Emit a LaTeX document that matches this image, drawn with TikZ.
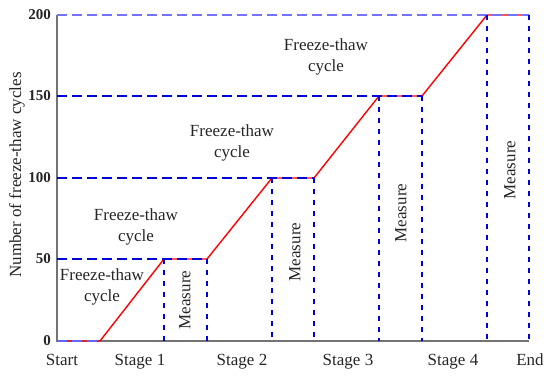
\documentclass[tikz,border=0pt]{standalone}
\usepackage{fontspec}
\setmainfont{Liberation Serif}
\begin{document}
\begin{tikzpicture}[x=1pt,y=-1pt,
  axisline/.style={draw=black!55,line width=1.2pt},
  redline/.style={draw=red,line width=1.4pt,line join=round},
  hdash/.style={draw=blue!85!black,line width=2pt,dash pattern=on 10pt off 5pt},
  vdash/.style={draw=blue!85!black,line width=2pt,dash pattern=on 5pt off 6pt},
  ticklbl/.style={font=\fontsize{15}{18}\selectfont\bfseries,text=black!85,anchor=east,inner sep=0pt},
  lbl/.style={font=\fontsize{17}{21}\selectfont,text=black!85,align=center,inner sep=0pt},
  vlbl/.style={lbl,rotate=90}]
\useasboundingbox (0,0) rectangle (550,378);
% key coordinates
\coordinate (O) at (57,341);
\coordinate (T) at (57,15);
\coordinate (E) at (529,341);
\coordinate (L50) at (57,259);
\coordinate (L100) at (57,178);
\coordinate (L150) at (57,96);
\coordinate (L200) at (57,15);
\coordinate (r0) at (100,341);
\coordinate (a1) at (164,259);
\coordinate (b1) at (207,259);
\coordinate (a2) at (272,178);
\coordinate (b2) at (314,178);
\coordinate (a3) at (379,96);
\coordinate (b3) at (422,96);
\coordinate (a4) at (487,15);
\coordinate (b4) at (529,15);
\coordinate (a1b) at (164,341);
\coordinate (b1b) at (207,341);
\coordinate (a2b) at (272,341);
\coordinate (b2b) at (314,341);
\coordinate (a3b) at (379,341);
\coordinate (b3b) at (422,341);
\coordinate (a4b) at (487,341);
\coordinate (b4b) at (529,341);
% axes
\draw[axisline] (T) -- (O) -- (E);
% red staircase
\draw[redline] (O) -- (r0) -- (a1) -- (b1) -- (a2) -- (b2) -- (a3) -- (b3) -- (a4) -- (b4);
% horizontal dashed
\draw[hdash,draw=blue!60] (O) -- (r0);
\draw[hdash] (L50) -- (b1);
\draw[hdash] (L100) -- (b2);
\draw[hdash] (L150) -- (b3);
\draw[hdash,draw=blue!55] (L200) -- (b4);
% vertical dashed
\draw[vdash] (a1) -- (a1b);
\draw[vdash] (b1) -- (b1b);
\draw[vdash] (a2) -- (a2b);
\draw[vdash] (b2) -- (b2b);
\draw[vdash] (a3) -- (a3b);
\draw[vdash] (b3) -- (b3b);
\draw[vdash] (a4) -- (a4b);
\draw[vdash] (b4) -- (b4b);
% tick labels
\node[ticklbl] (t0) at (51,341) {0};
\node[ticklbl] (t50) at (51,259) {50};
\node[ticklbl] (t100) at (51,178) {100};
\node[ticklbl] (t150) at (51,96) {150};
\node[ticklbl] (t200) at (51,15) {200};
% axis title
\node[vlbl] (ytitle) at (17,175) {Number of freeze-thaw cycles};
% bottom labels
\node[lbl,anchor=base] (s0) at (62,365) {Start};
\node[lbl,anchor=base] (s1) at (140,365) {Stage 1};
\node[lbl,anchor=base] (s2) at (242,365) {Stage 2};
\node[lbl,anchor=base] (s3) at (348,365) {Stage 3};
\node[lbl,anchor=base] (s4) at (453,365) {Stage 4};
\node[lbl,anchor=base] (s5) at (530,365) {End};
% freeze-thaw labels
\node[lbl] (f1) at (102,287) {Freeze-thaw\\cycle};
\node[lbl] (f2) at (136,227) {Freeze-thaw\\cycle};
\node[lbl] (f3) at (232,143) {Freeze-thaw\\cycle};
\node[lbl] (f4) at (326,57) {Freeze-thaw\\cycle};
% measure labels
\node[vlbl] (m1) at (185,300) {Measure};
\node[vlbl] (m2) at (295,252) {Measure};
\node[vlbl] (m3) at (401,213) {Measure};
\node[vlbl] (m4) at (510,170) {Measure};
\end{tikzpicture}
\end{document}
